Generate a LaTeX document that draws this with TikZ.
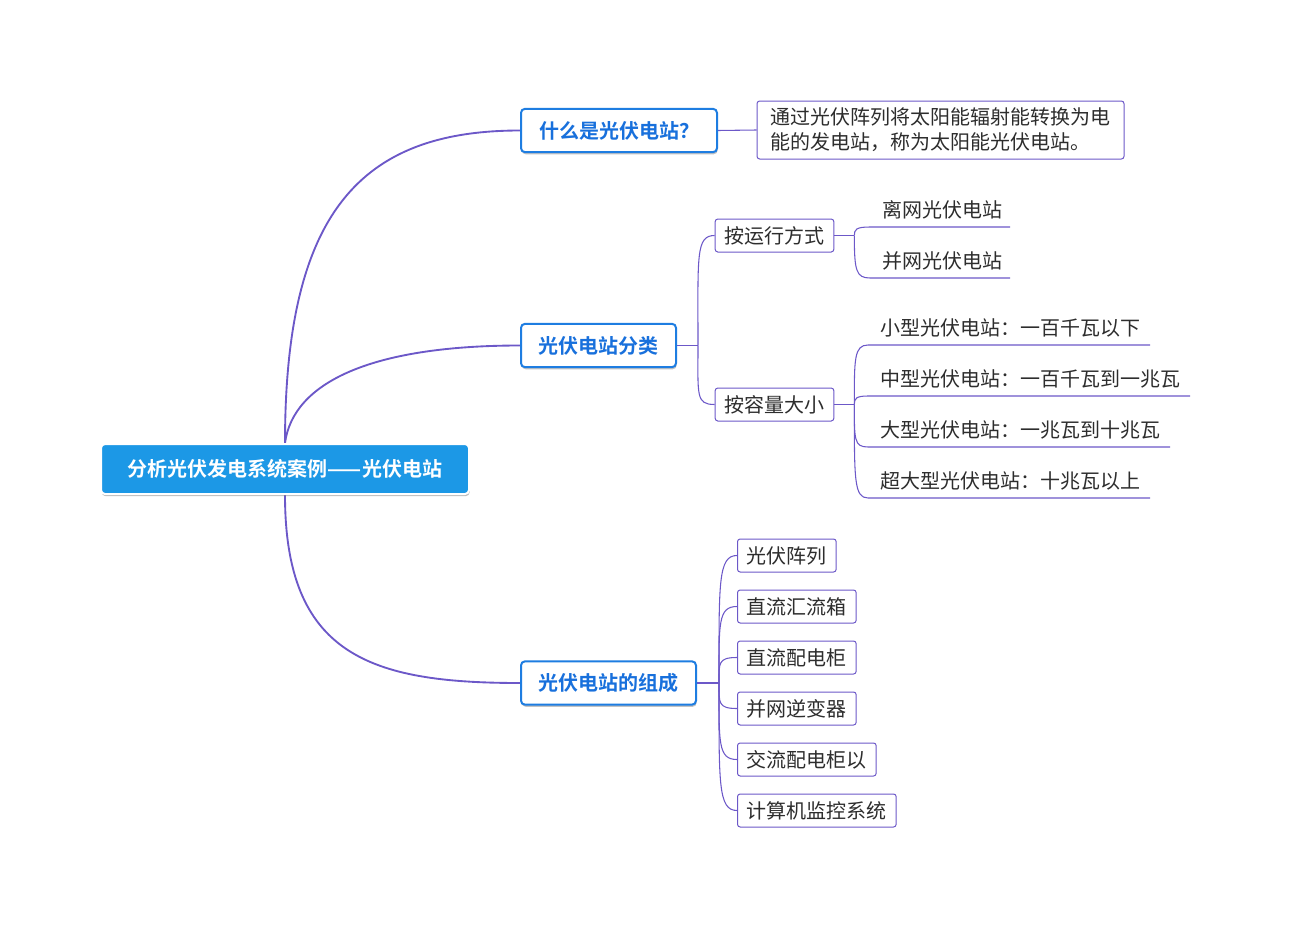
\documentclass[tikz,border=0pt]{standalone}
\usepackage{fontspec}
\setmainfont{Noto Sans CJK SC}[BoldFont={* Bold}]
\usetikzlibrary{shadows,backgrounds}
\definecolor{lineP}{RGB}{108,88,200}
\definecolor{rootB}{RGB}{28,152,230}
\definecolor{mainB}{RGB}{30,125,225}
\definecolor{mainT}{RGB}{24,112,220}
\definecolor{txt}{RGB}{45,45,45}
\begin{document}
\begin{tikzpicture}[x=0.75pt,y=-0.75pt,
  conn/.style={draw=lineP, line width=0.8pt},
  rootconn/.style={draw=lineP, line width=1.4pt},
  rootbox/.style={fill=rootB, draw=white, line width=1.5pt, rounded corners=3pt,
    text=white, font=\bfseries\fontsize{15pt}{18pt}\selectfont,
    minimum width=276pt, minimum height=37.5pt,
    drop shadow={shadow xshift=0.5pt, shadow yshift=-1.6pt, opacity=0.45, fill=black!60}},
  mainbox/.style={fill=white, draw=mainB, line width=1.5pt, rounded corners=3pt,
    text=mainT, font=\bfseries\fontsize{15pt}{18pt}\selectfont,
    minimum height=32.5pt,
    drop shadow={shadow xshift=0.5pt, shadow yshift=-1.6pt, opacity=0.4, fill=black!60}},
  subbox/.style={fill=white, draw=lineP, line width=0.75pt, rounded corners=2pt,
    text=txt, font=\fontsize{15pt}{18pt}\selectfont,
    minimum height=24.75pt, inner xsep=7pt},
  leaf/.style={anchor=south west, inner xsep=9pt, inner ysep=4pt,
    text height=12pt, text depth=3pt, text=txt, font=\fontsize{15pt}{18pt}\selectfont},
  defbox/.style={fill=white, draw=lineP, line width=0.75pt, rounded corners=2pt,
    text=txt, font=\fontsize{15pt}{18.75pt}\selectfont, align=left,
    minimum width=275.25pt, minimum height=43.5pt, inner xsep=6pt}
]
\useasboundingbox (0,0) rectangle (1289,928);

% root and main branches
\node[rootbox] (root) at (285,469) {分析光伏发电系统案例——光伏电站};
\node[mainbox, minimum width=147pt] (n1) at (619,130.5) {什么是光伏电站？};
\node[mainbox, minimum width=116.25pt] (n2) at (598.5,345.5) {光伏电站分类};
\node[mainbox, minimum width=131.25pt] (n3) at (608.5,683) {光伏电站的组成};

% definition
\node[defbox] (def) at (940.5,130) {通过光伏阵列将太阳能辐射能转换为电\\能的发电站，称为太阳能光伏电站。};

% classification
\node[subbox, minimum width=87.75pt] (c1) at (774.5,235.5) {按运行方式};
\node[subbox, minimum width=87.75pt] (c2) at (774.5,404.5) {按容量大小};

\node[leaf] (l1) at (870,227) {离网光伏电站};
\node[leaf] (l2) at (870,278) {并网光伏电站};
\node[leaf] (k1) at (868,345) {小型光伏电站：一百千瓦以下};
\node[leaf] (k2) at (868,396) {中型光伏电站：一百千瓦到一兆瓦};
\node[leaf] (k3) at (868,447) {大型光伏电站：一兆瓦到十兆瓦};
\node[leaf] (k4) at (868,498) {超大型光伏电站：十兆瓦以上};

% composition
\node[subbox, anchor=west] (d1) at (737,555.5) {光伏阵列};
\node[subbox, anchor=west] (d2) at (737,606.5) {直流汇流箱};
\node[subbox, anchor=west] (d3) at (737,657.5) {直流配电柜};
\node[subbox, anchor=west] (d4) at (737,708.5) {并网逆变器};
\node[subbox, anchor=west] (d5) at (737,759.5) {交流配电柜以};
\node[subbox, anchor=west] (d6) at (737,810.5) {计算机监控系统};

\begin{scope}[on background layer]
  \draw[rootconn] (root.north) .. controls +(0,-230) and +(-160,0) .. (n1.west);
  \draw[rootconn] (root.north) .. controls +(8,-60) and +(-150,0) .. (n2.west);
  \draw[rootconn] (root.south) .. controls +(0,160) and +(-150,0) .. (n3.west);

  \draw[conn] (n1.east) -- (def.west);

  \draw[conn] (n2.east) -- ++(21,0) coordinate (j2);
  \draw[conn] (j2) .. controls +(0,-90) and +(-19,0) .. (c1.west);
  \draw[conn] (j2) .. controls +(0,50) and +(-19,0) .. (c2.west);

  \draw[conn] (c1.east) -- ++(20,0) coordinate (jc1);
  \draw[conn] (jc1) .. controls +(0,-6) and +(-14,0) .. (l1.south west) -- ++(140,0);
  \draw[conn] (jc1) .. controls +(0,35) and +(-14,0) .. (l2.south west) -- ++(140,0);

  \draw[conn] (c2.east) -- ++(20,0) coordinate (jc2);
  \draw[conn] (jc2) .. controls +(0,-45) and +(-14,0) .. (k1.south west) -- ++(282,0);
  \draw[conn] (jc2) .. controls +(0,-6) and +(-12,0) .. (k2.south west) -- ++(322,0);
  \draw[conn] (jc2) .. controls +(0,35) and +(-14,0) .. (k3.south west) -- ++(302,0);
  \draw[conn] (jc2) .. controls +(0,75) and +(-14,0) .. (k4.south west) -- ++(282,0);

  \draw[conn] (n3.east) -- ++(22,0) coordinate (j3);
  \draw[conn] (j3) .. controls +(0,-100) and +(-19,0) .. (d1.west);
  \draw[conn] (j3) .. controls +(0,-60) and +(-19,0) .. (d2.west);
  \draw[conn] (j3) .. controls +(0,-20) and +(-19,0) .. (d3.west);
  \draw[conn] (j3) .. controls +(0,20) and +(-19,0) .. (d4.west);
  \draw[conn] (j3) .. controls +(0,60) and +(-19,0) .. (d5.west);
  \draw[conn] (j3) .. controls +(0,100) and +(-19,0) .. (d6.west);
\end{scope}
\end{tikzpicture}
\end{document}
